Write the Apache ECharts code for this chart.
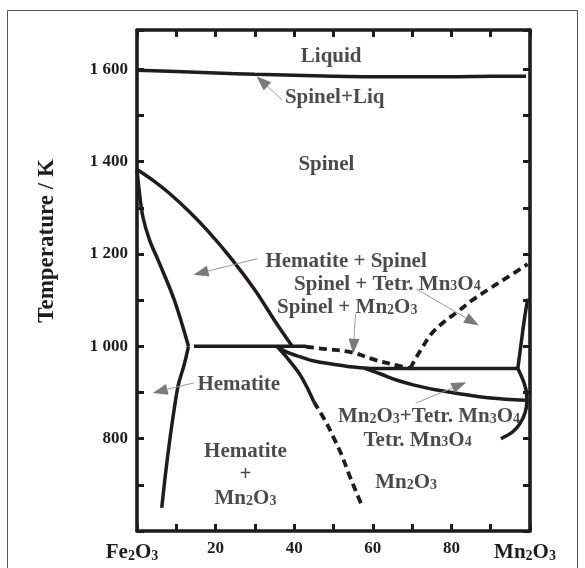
<!DOCTYPE html>
<html><head><meta charset="utf-8">
<script src="https://cdn.jsdelivr.net/npm/echarts@6/dist/echarts.min.js"></script>
<style>html,body{margin:0;padding:0;background:#fff}#c{width:585px;height:568px}</style>
</head><body><div id="c"></div>
<script>
// ---- data (x: mol % Mn2O3, y: temperature / K) ----
const xTickLabels = {0:'Fe2O3', 20:'20', 40:'40', 60:'60', 80:'80', 100:'Mn2O3'};
const yTickLabels = [800, 1000, 1200, 1400, 1600];

const liquidus = [[0,1598],[10,1595],[20,1592],[30,1589],[40,1587],[50,1585],[60,1584],[70,1584],[80,1584],[90,1585],[99,1585]];
const hemSpinelUpper = [[0,1383],[4,1360],[8,1333],[13,1294],[18,1250],[24,1190],[30,1122],[35,1056],[39.5,1000]];
const hematiteSolvusUpper = [[0,1383],[0.6,1334],[1.5,1280],[3.2,1230],[5.4,1186],[9.5,1100],[13.1,1000]];
const hematiteSolvusLower = [[13.1,1000],[12,960],[10.5,916],[9.4,860],[8.4,801],[7.2,720],[6.3,650]];
const eutectoid1000 = [[14.5,1000],[43,1000]];
const spinelMn2O3Upper = [[43,999],[48,994],[54.6,987],[60.4,971],[65,961],[69.5,952]];
const spinelMn2O3Lower = [[35.6,1000],[38,988],[41.6,977],[45,968],[50,961],[55,955],[59,952]];
const line952 = [[58,952],[96.9,952]];
const mn2o3TetrLower = [[58,952],[62,940],[66,927],[70.5,916],[76,906],[81.6,898],[90,888],[98.8,883]];
const spinelTetrBoundary = [[69.5,952],[71,975],[72.8,1000],[74.7,1025],[78,1052],[81.6,1075],[85,1098],[89.2,1122],[94,1148],[99.4,1178]];
const rightUpper = [[96.9,952],[97.8,1010],[98.6,1060],[99.4,1103]];
const rightCurve = [[96.9,952],[98.3,925],[99.1,900],[99.2,880],[98.7,855],[97.4,832],[95.5,814],[92.6,800]];
const hemMn2O3Solid = [[35.6,1000],[38,977],[41.6,937],[45,880]];
const hemMn2O3Dashed = [[45,880],[48,837],[50.1,801],[52,766],[54.3,715],[56,680],[57.4,651]];

const regionNames = ['Liquid','Spinel+Liq','Spinel','Hematite + Spinel','Spinel + Tetr. Mn3O4','Spinel + Mn2O3','Hematite','Mn2O3+Tetr. Mn3O4','Tetr. Mn3O4','Hematite\n+\nMn2O3','Mn2O3'];
const regionX = [49.4, 50.3, 48.2, 53.2, 63.7, 53.5, 25.9, 74.3, 71.4, 27.6, 68.5];
const regionY = [1631, 1541, 1397, 1187, 1137, 1086, 920, 850, 799, 724, 707];

// arrows: [tail, head]
const arrowTails = [[36.9,1534],[30.7,1190],[71.1,1124],[55.6,1071],[14.6,921],[70.9,877]];
const arrowHeads = [[30.4,1585],[14.4,1155],[87.0,1045],[55.0,984],[4.0,899],[83.8,922]];

// ---- rendering ----
const FONT = '"Liberation Serif","Times New Roman",serif';
const INK = '#1e1c1d';
function chem(s, b, sub){
  b = b || 'b'; sub = sub || 's';
  return s.split('\n').map(line => line.replace(/([A-Za-z])(\d)/g, '$1\u0000$2\u0000')
    .split('\u0000').map((p,i) => p === '' ? '' : (i % 2 ? '{' + sub + '|' + p + '}' : '{' + b + '|' + p + '}')).join('')).join('\n');
}
function tok(size, lh, pad){
  return {fontFamily:FONT, fontWeight:'bold', fontSize:size, color:INK, lineHeight:lh, verticalAlign:'bottom', padding:pad || [0,0,0,0]};
}
const solid = {color:INK, width:3.5};
const dashed = {color:INK, width:3.8, type:[8,5]};
function ln(data, style){
  return {type:'line', data:data, symbol:'none', smooth:0.35, lineStyle:style, z:3, silent:true, animation:false};
}
const frameAxis = {
  axisLine:{show:true, onZero:false, lineStyle:{color:INK, width:3.6}},
  axisTick:{show:true, inside:true, length:7, lineStyle:{color:INK, width:3}},
  splitLine:{show:false}
};

const chart = echarts.init(document.getElementById('c'), null, {renderer:'canvas'});
chart.setOption({
  animation:false,
  backgroundColor:'#fff',
  grid:{left:137, top:30, width:393, height:501, containLabel:false},
  xAxis:[
    Object.assign({type:'value', min:0, max:100, interval:10, position:'bottom',
      axisLabel:{margin:6, showMinLabel:true, showMaxLabel:true,
        formatter:v => {
          const t = xTickLabels[v];
          if (t === undefined) return '';
          return /[A-Za-z]/.test(t) ? chem(t, 'B', 'S') + '{P| }' : '{n|' + t + '}';
        },
        rich:{n:tok(17,20), B:tok(21,26,[8,0,0,0]), S:tok(14,26,[8,0,0,0]), P:{fontSize:4, width:10, lineHeight:26}}}}, frameAxis),
    Object.assign({type:'value', min:0, max:100, interval:10, position:'top', axisLabel:{show:false}}, frameAxis)
  ],
  yAxis:[
    Object.assign({type:'value', min:600, max:1685, interval:100, position:'left',
      axisLabel:{margin:9, fontFamily:FONT, fontWeight:'bold', fontSize:17, color:INK,
        formatter:v => yTickLabels.indexOf(v) >= 0 ? (v >= 1000 ? Math.floor(v/1000) + ' ' + String(v%1000).padStart(3,'0') : String(v)) : ''}}, frameAxis),
    Object.assign({type:'value', min:600, max:1685, interval:100, position:'right', axisLabel:{show:false}}, frameAxis)
  ],
  graphic:[
    {type:'rect', shape:{x:7.5, y:10.5, width:570, height:600}, style:{fill:'none', stroke:'#555', lineWidth:1}, silent:true},
    {type:'text', x:47, y:241, rotation:Math.PI/2, style:{text:'Temperature / K', x:0, y:0, align:'center', verticalAlign:'middle', font:'bold 23px ' + FONT, fill:INK}, silent:true}
  ],
  series:[
    ln(liquidus, solid),
    ln(hemSpinelUpper, solid),
    ln(hematiteSolvusUpper, solid),
    ln(hematiteSolvusLower, solid),
    ln(eutectoid1000, solid),
    ln(spinelMn2O3Upper, dashed),
    ln(spinelMn2O3Lower, solid),
    ln(line952, solid),
    ln(mn2o3TetrLower, solid),
    ln(spinelTetrBoundary, dashed),
    ln(rightUpper, solid),
    ln(rightCurve, solid),
    ln(hemMn2O3Solid, solid),
    ln(hemMn2O3Dashed, dashed),
    {type:'custom', coordinateSystem:'cartesian2d', z:4, silent:true, animation:false,
      data:arrowTails.map((t,i) => [t[0], t[1], arrowHeads[i][0], arrowHeads[i][1]]),
      renderItem:function(params, api){
        const p1 = api.coord([api.value(0), api.value(1)]);
        const p2 = api.coord([api.value(2), api.value(3)]);
        const dx = p2[0]-p1[0], dy = p2[1]-p1[1], L = Math.sqrt(dx*dx+dy*dy);
        const ux = dx/L, uy = dy/L, hl = 15, hw = 5.5;
        const bx = p2[0]-ux*hl, by = p2[1]-uy*hl;
        return {type:'group', children:[
          {type:'line', shape:{x1:p1[0], y1:p1[1], x2:bx, y2:by}, style:{stroke:'#9a9a9a', lineWidth:1}},
          {type:'polygon', shape:{points:[[p2[0],p2[1]],[bx - uy*hw, by + ux*hw],[bx + uy*hw, by - ux*hw]]}, style:{fill:'#7a7a7a'}}
        ]};
      }},
    {type:'scatter', symbolSize:0, z:5, silent:true, animation:false,
      data:regionNames.map((n,i) => ({value:[regionX[i], regionY[i]],
        label:{show:true, position:'inside', formatter:chem(n), rich:{b:tok(21,23.5), s:tok(14,23.5,[0,0,1,0])}}}))}
  ]
});
</script></body></html>
